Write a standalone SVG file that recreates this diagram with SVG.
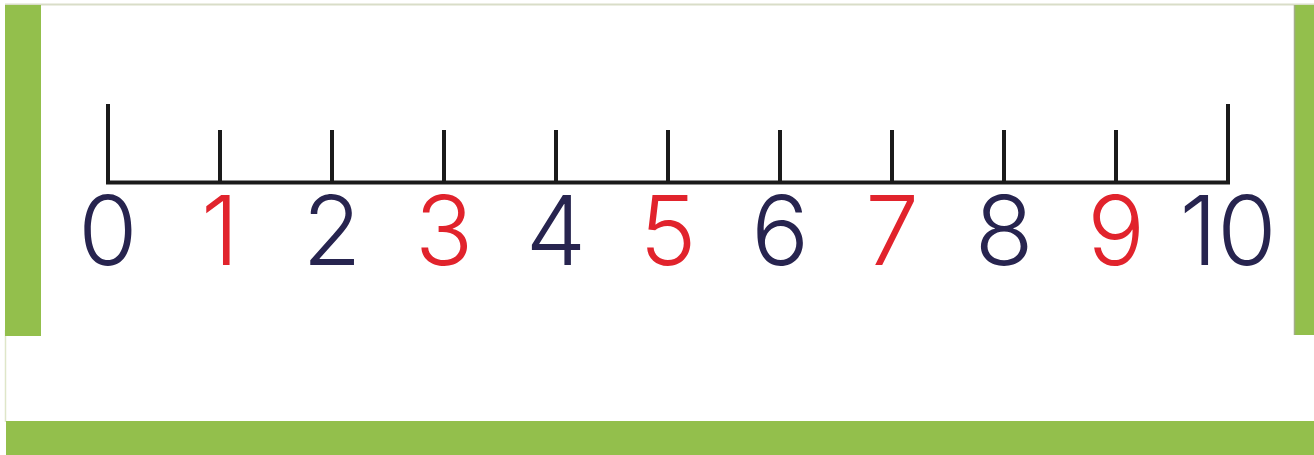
<svg xmlns="http://www.w3.org/2000/svg" width="1314" height="455" viewBox="0 0 1314 455">
<style>
.g{fill:#93bf4c}
.tick{stroke:#1a1a1a;stroke-width:4;fill:none}
.num{font-family:"Inter","Lato","Liberation Sans",sans-serif;font-weight:300;font-size:96px;text-anchor:middle}
.b{fill:#27244f}
.r{fill:#e1232c}
</style>
<rect width="1314" height="455" fill="#ffffff"/>
<g id="frame">
<line x1="5" y1="4.5" x2="1314" y2="4.5" stroke="#d9ddc8" stroke-width="2"/>
<line x1="5.5" y1="330" x2="5.5" y2="422" stroke="#dfe6c8" stroke-width="1.5"/>
<rect id="left-bar" class="g" x="5" y="5" width="36" height="331"/>
<rect id="right-bar" class="g" x="1294" y="5" width="20" height="330"/>
<line x1="1294.5" y1="5" x2="1294.5" y2="335" stroke="#a2ad88" stroke-width="1.5"/>
<rect id="bottom-bar" class="g" x="6" y="421" width="1308" height="34"/>
</g>
<g id="connectors">
<line class="tick" x1="106" y1="182.5" x2="1230" y2="182.5" stroke-width="3"/>
<line class="tick" x1="108" y1="104" x2="108" y2="184"/>
<line class="tick" x1="1228" y1="104" x2="1228" y2="184"/>
<line class="tick" x1="220" y1="130" x2="220" y2="184"/>
<line class="tick" x1="332" y1="130" x2="332" y2="184"/>
<line class="tick" x1="444" y1="130" x2="444" y2="184"/>
<line class="tick" x1="556" y1="130" x2="556" y2="184"/>
<line class="tick" x1="668" y1="130" x2="668" y2="184"/>
<line class="tick" x1="780" y1="130" x2="780" y2="184"/>
<line class="tick" x1="892" y1="130" x2="892" y2="184"/>
<line class="tick" x1="1004" y1="130" x2="1004" y2="184"/>
<line class="tick" x1="1116" y1="130" x2="1116" y2="184"/>
</g>
<g id="labels">
<text id="n0" class="num b" x="108" y="265">0</text>
<text id="n1" class="num r" x="220" y="265">1</text>
<text id="n2" class="num b" x="332" y="265">2</text>
<text id="n3" class="num r" x="444" y="265">3</text>
<text id="n4" class="num b" x="556" y="265">4</text>
<text id="n5" class="num r" x="668" y="265">5</text>
<text id="n6" class="num b" x="780" y="265">6</text>
<text id="n7" class="num r" x="892" y="265">7</text>
<text id="n8" class="num b" x="1004" y="265">8</text>
<text id="n9" class="num r" x="1116" y="265">9</text>
<text id="n10" class="num b" x="1228" y="265">10</text>
</g>
</svg>
